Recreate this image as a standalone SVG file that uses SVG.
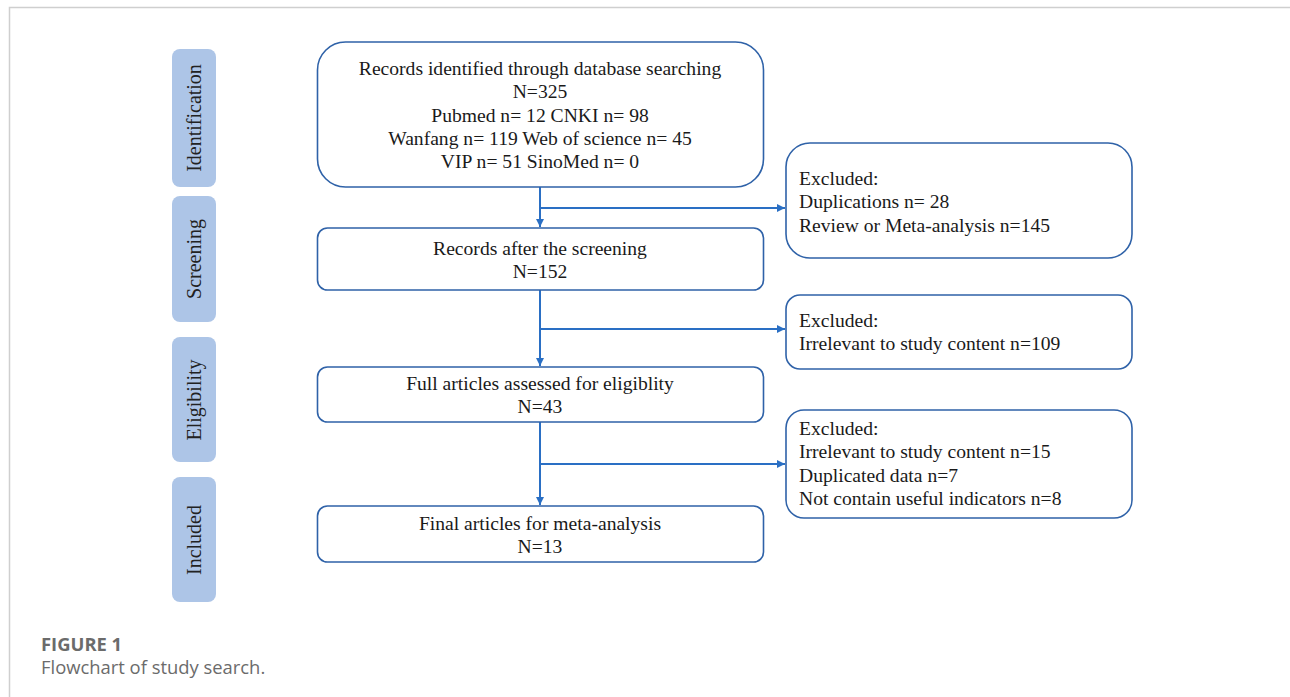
<svg xmlns="http://www.w3.org/2000/svg" width="1290" height="697" viewBox="0 0 1290 697">
<style>
.bg{fill:#ffffff}
.frame{fill:none;stroke:#cfcfcf;stroke-width:1.5}
.side{fill:#adc5e7}
.sidet{font-family:"Liberation Serif","Times New Roman",serif;font-size:20px;fill:#222;text-anchor:middle}
.box{fill:#ffffff;stroke:#2f62a8;stroke-width:1.6}
.t{font-family:"Liberation Serif","Times New Roman",serif;font-size:19.6px;fill:#1a1a1a}
.c{text-anchor:middle}
.conn{fill:none;stroke:#2a6fc4;stroke-width:2}
.cap1{font-family:"Open Sans","Liberation Sans",sans-serif;font-size:18.4px;font-weight:bold;fill:#6b6b6b}
.cap2{font-family:"Open Sans","Liberation Sans",sans-serif;font-size:18.4px;fill:#6b6b6b}
</style>
<defs>
<marker id="ah" viewBox="0 0 10 10" refX="10" refY="5" markerWidth="4" markerHeight="4" orient="auto" markerUnits="strokeWidth">
<path d="M0,0 L10,5 L0,10 z" fill="#2a6fc4"/>
</marker>
</defs>
<rect class="bg" x="0" y="0" width="1290" height="697"/>
<path class="frame" d="M9.5,697 V7.5 H1290"/>

<g id="stage-identification">
<rect class="side" x="172" y="49" width="44" height="138" rx="8"/>
<text class="sidet" transform="translate(201,118) rotate(-90)">Identification</text>
</g>
<g id="stage-screening">
<rect class="side" x="172" y="196" width="44" height="126" rx="8"/>
<text class="sidet" transform="translate(201,259) rotate(-90)">Screening</text>
</g>
<g id="stage-eligibility">
<rect class="side" x="172" y="337" width="44" height="125" rx="8"/>
<text class="sidet" transform="translate(201,400) rotate(-90)">Eligibility</text>
</g>
<g id="stage-included">
<rect class="side" x="172" y="477" width="44" height="125" rx="8"/>
<text class="sidet" transform="translate(201,540) rotate(-90)">Included</text>
</g>

<g id="connectors">
<path class="conn" d="M540,187 V227" marker-end="url(#ah)"/>
<path class="conn" d="M540,208 H785" marker-end="url(#ah)"/>
<path class="conn" d="M540,290 V366" marker-end="url(#ah)"/>
<path class="conn" d="M540,329 H785" marker-end="url(#ah)"/>
<path class="conn" d="M540,422 V505" marker-end="url(#ah)"/>
<path class="conn" d="M540,464 H785" marker-end="url(#ah)"/>
</g>

<g id="records-identified">
<rect class="box" x="317.5" y="42" width="446" height="145" rx="28"/>
<text class="t c" x="540" y="75">Records identified through database searching</text>
<text class="t c" x="540" y="98">N=325</text>
<text class="t c" x="540" y="122">Pubmed n= 12 CNKI n= 98</text>
<text class="t c" x="540" y="145">Wanfang n= 119 Web of science n= 45</text>
<text class="t c" x="540" y="168">VIP n= 51 SinoMed n= 0</text>
</g>

<g id="excluded-1">
<rect class="box" x="786" y="143" width="346" height="115" rx="24"/>
<text class="t" x="799" y="185">Excluded:</text>
<text class="t" x="799" y="208">Duplications n= 28</text>
<text class="t" x="799" y="232">Review or Meta-analysis n=145</text>
</g>

<g id="records-screened">
<rect class="box" x="317.5" y="228" width="446" height="62" rx="10"/>
<text class="t c" x="540" y="255">Records after the screening</text>
<text class="t c" x="540" y="278">N=152</text>
</g>

<g id="excluded-2">
<rect class="box" x="786" y="295" width="346" height="74" rx="14"/>
<text class="t" x="799" y="327">Excluded:</text>
<text class="t" x="799" y="350">Irrelevant to study content n=109</text>
</g>

<g id="full-articles">
<rect class="box" x="317.5" y="367" width="446" height="55" rx="10"/>
<text class="t c" x="540" y="390">Full articles assessed for eligiblity</text>
<text class="t c" x="540" y="413">N=43</text>
</g>

<g id="excluded-3">
<rect class="box" x="786" y="410" width="346" height="108" rx="18"/>
<text class="t" x="799" y="435">Excluded:</text>
<text class="t" x="799" y="458">Irrelevant to study content n=15</text>
<text class="t" x="799" y="482">Duplicated data n=7</text>
<text class="t" x="799" y="505">Not contain useful indicators n=8</text>
</g>

<g id="final-articles">
<rect class="box" x="317.5" y="506" width="446" height="56" rx="10"/>
<text class="t c" x="540" y="530">Final articles for meta-analysis</text>
<text class="t c" x="540" y="553">N=13</text>
</g>

<g id="caption">
<text class="cap1" x="41" y="651">FIGURE 1</text>
<text class="cap2" x="41" y="674">Flowchart of study search.</text>
</g>
</svg>
